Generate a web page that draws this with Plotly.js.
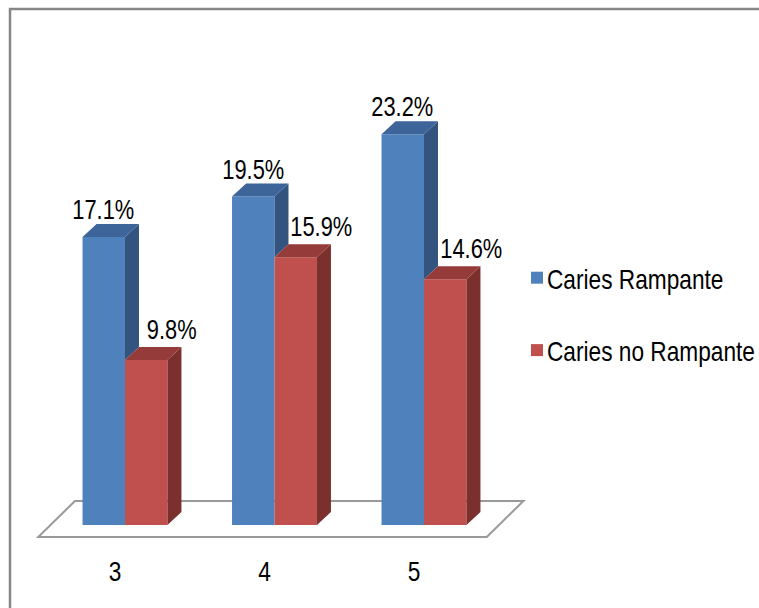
<!DOCTYPE html>
<html><head><meta charset="utf-8">
<script src="https://cdn.plot.ly/plotly-3.0.1.min.js"></script>
<style>html,body{margin:0;padding:0;background:#fff}</style>
</head><body><div id="chart" style="width:759px;height:608px"></div>
<script>
// ---- data ----
const categories = ['3', '4', '5'];
const seriesNames = ['Caries Rampante', 'Caries no Rampante'];
const cariesRampante = [17.1, 19.5, 23.2];
const cariesNoRampante = [9.8, 15.9, 14.6];

// ---- styling / geometry ----
const FONT = '"Liberation Sans", Arial, sans-serif';
const NARROW = 0.81; // horizontal condensing to mimic a narrow face
const colors = {
  blue: {front: '#4F81BD', top: '#3D6599', side: '#32547F'},
  red:  {front: '#C0504D', top: '#953B39', side: '#7C302E'}
};
const BW = 0.284;   // bar width (x units)
const DX = 0.0936;  // depth offset x
const DY = 0.772;   // depth offset y
const PX = {left: 20, right: 540, top: 20, bottom: 552};
const xUnit = 149.5, x0px = 125, yUnit = 16.84, y0px = 525;
const pw = PX.right - PX.left, ph = PX.bottom - PX.top;
const xr = [(PX.left - x0px) / xUnit, (PX.right - x0px) / xUnit];
const yr = [(y0px - PX.bottom) / yUnit, (y0px - PX.top) / yUnit];

const idx = categories.map((c, i) => i);
const series = [
  {name: seriesNames[0], vals: cariesRampante, col: colors.blue, off: -BW, lblShift: 0, lblY: -3},
  {name: seriesNames[1], vals: cariesNoRampante, col: colors.red, off: 0, lblShift: 26, lblY: 0}
];

const traces = [];
series.forEach((s, k) => {
  traces.push({
    type: 'bar', name: s.name, x: idx.map(i => i + s.off + BW / 2), y: s.vals,
    width: BW, marker: {color: s.col.front, line: {width: 0}},
    legendgroup: 'g' + k, hoverinfo: 'skip'
  });
});

function faceTrace(list, color) {
  const x = [], y = [];
  list.forEach(pts => {
    pts.concat([pts[0]]).forEach(p => { x.push(p[0]); y.push(p[1]); });
    x.push(null); y.push(null);
  });
  return {type: 'scatter', mode: 'lines', x, y, fill: 'toself', fillcolor: color,
          line: {width: 0, color: color}, showlegend: false, hoverinfo: 'skip'};
}

series.forEach((s, k) => {
  const tops = [], sides = [];
  idx.forEach(i => {
    const h = s.vals[i];
    const a = i + s.off, b = a + BW;
    tops.push([[a, h], [a + DX, h + DY], [b + DX, h + DY], [b, h]]);
    let low = 0;
    if (k < series.length - 1) low = series[k + 1].vals[i]; // occluded by next bar
    if (h > low) sides.push([[b, low], [b, h], [b + DX, h + DY], [b + DX, low + DY]]);
  });
  traces.push(faceTrace(sides, s.col.side));
  traces.push(faceTrace(tops, s.col.top));
});

const annotations = [];
series.forEach(s => {
  idx.forEach(i => {
    annotations.push({
      x: i + s.off + BW / 2, y: s.vals[i] + DY, xref: 'x', yref: 'y',
      text: s.vals[i].toFixed(1) + '%', showarrow: false, yanchor: 'bottom',
      xshift: s.lblShift, yshift: s.lblY, font: {family: FONT, size: 27, color: '#000'}
    });
  });
});

const n = categories.length;
const fl = -0.58, fr = n - 1 + 0.42, fdx = 0.245, fy0 = -0.713, fy1 = 1.425;
const shapes = [
  {type: 'path', xref: 'x', yref: 'y', layer: 'below',
   path: `M${fl},${fy0} L${fr},${fy0} L${fr + fdx},${fy1} L${fl + fdx},${fy1} Z`,
   line: {color: '#999999', width: 2}, fillcolor: '#ffffff'},
  {type: 'rect', xref: 'paper', yref: 'paper',
   x0: (10 - PX.left) / pw, x1: (800 - PX.left) / pw,
   y0: (PX.bottom - 700) / ph, y1: (PX.bottom - 9) / ph,
   line: {color: '#878787', width: 2.5}, fillcolor: 'rgba(0,0,0,0)'}
];

const layout = {
  width: 759, height: 608,
  margin: {l: PX.left, r: 759 - PX.right, t: PX.top, b: 608 - PX.bottom, pad: 0, autoexpand: false},
  paper_bgcolor: '#fff', plot_bgcolor: 'rgba(0,0,0,0)',
  barmode: 'overlay',
  showlegend: true,
  legend: {x: (507 - PX.left) / pw, xanchor: 'left', y: (PX.bottom - 253) / ph, yanchor: 'top',
           font: {family: FONT, size: 28, color: '#000'}, tracegroupgap: 33,
           bgcolor: 'rgba(0,0,0,0)', traceorder: 'grouped'},
  xaxis: {range: xr, tickvals: idx.map(i => i - 0.067), ticktext: categories,
          showgrid: false, zeroline: false, showline: false, ticks: '',
          tickfont: {family: FONT, size: 28, color: '#000'}, fixedrange: true},
  yaxis: {range: yr, visible: false, showgrid: false, zeroline: false, fixedrange: true},
  annotations, shapes,
  font: {family: FONT}
};

Plotly.newPlot('chart', traces, layout, {displayModeBar: false, staticPlot: true}).then(() => {
  // condense text horizontally around its own anchor point
  document.querySelectorAll('#chart svg text').forEach(t => {
    if (!t.textContent) return;
    const ax = parseFloat(t.getAttribute('x') || '0') || 0;
    const tr = t.getAttribute('transform') || '';
    t.setAttribute('transform',
      `${tr} translate(${ax},0) scale(${NARROW},1) translate(${-ax},0)`.trim());
  });
  // bring legend swatches closer to their labels
  document.querySelectorAll('#chart .legendpoints').forEach(g => {
    const tr = g.getAttribute('transform') || '';
    g.setAttribute('transform', 'translate(10,0) ' + tr);
  });
});
</script>
</body></html>
